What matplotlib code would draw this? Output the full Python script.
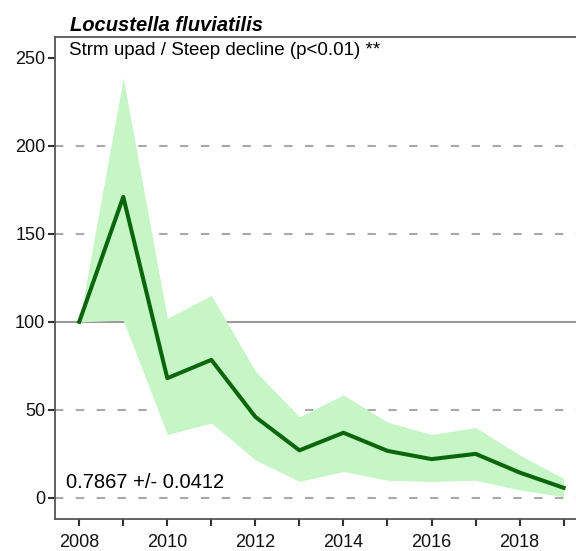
import numpy as np
import matplotlib.pyplot as plt

plt.rcParams['font.family'] = ['Liberation Sans', 'DejaVu Sans']

# Data
years = [2008, 2009, 2010, 2011, 2012, 2013, 2014, 2015, 2016, 2017, 2018, 2019]
index = [100, 171, 68, 78.4, 46, 27, 37, 26.7, 22, 25, 14.4, 5.7]
upper = [100, 238.6, 102, 115, 72, 46, 58.5, 43, 36, 40, 24.4, 11]
lower = [100, 101, 36, 42.5, 21.6, 9.3, 15, 10, 9.3, 10, 4.5, 0.7]

species = "Locustella fluviatilis"
trend_text = "Strm upad / Steep decline (p<0.01) **"
slope_text = "0.7867 +/- 0.0412"

fig = plt.figure(figsize=(5.76, 5.51), dpi=100)
ax = fig.add_axes([0.0955, 0.0581, 0.906, 0.8753])

# Grid lines
for g in [0, 50, 150, 200]:
    ax.axhline(g, color="#a8a8a8", lw=1.5, linestyle=(0, (4, 6)), zorder=1)
ax.axhline(100, color="#9a9a9a", lw=1.5, zorder=1)

ax.fill_between(years, lower, upper, color="#c6f5c6", lw=0, zorder=2)
ax.plot(years, index, color="#0b650b", lw=2.9, zorder=3)

ax.set_xlim(2007.45, 2019.3)
ax.set_ylim(-12, 262)
ax.set_xticks(range(2008, 2020))
ax.set_xticklabels([str(y) if y % 2 == 0 else "" for y in range(2008, 2020)])
ax.set_yticks([0, 50, 100, 150, 200, 250])

for s in ["left", "top", "bottom"]:
    ax.spines[s].set_color("#555555")
    ax.spines[s].set_linewidth(1.3)
ax.spines["right"].set_visible(False)
ax.tick_params(axis="both", colors="#333333", width=1.5, length=5, labelsize=13, labelcolor="#111111")
ax.tick_params(axis="x", pad=6)
ax.tick_params(axis="y", pad=2)

fig.text(0.121, 0.9546, species, fontsize=14.5, fontweight="bold", fontstyle="italic", va="center")
ax.text(0.027, 0.99, trend_text, transform=ax.transAxes, fontsize=13.5, va="top", ha="left")
ax.text(0.022, 0.055, slope_text, transform=ax.transAxes, fontsize=14.5, va="bottom", ha="left")

fig.savefig("out.png", dpi=100)
